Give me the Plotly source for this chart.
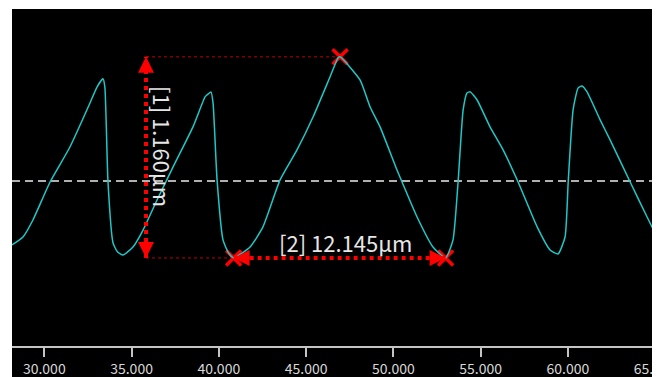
import plotly.graph_objects as go

# Profile curve (x in µm, height in µm relative to mean line)
profile_x = [28.15, 28.78, 29.35, 30.33, 31.47, 32.62, 33.02, 33.36, 33.47, 33.65, 33.94, 34.20, 34.51,
             35.08, 35.66, 36.46, 37.38, 38.52, 39.21, 39.32, 39.55, 39.67, 39.90, 40.24, 40.53, 40.85,
             41.79, 42.53, 43.51, 44.48, 45.40, 46.37, 46.83, 46.95, 48.09, 48.67, 49.24, 50.21, 50.50,
             51.36, 52.27, 52.995, 53.42, 53.71, 54.00, 54.22, 54.40, 54.80, 55.54, 56.29, 57.15, 58.24,
             58.98, 59.44, 59.84, 60.02, 60.30, 60.59, 60.81, 61.10, 61.85, 62.42, 63.57, 64.54, 65.28]
profile_y = [-0.369, -0.323, -0.225, -0.006, 0.196, 0.450, 0.542, 0.589, 0.542, -0.006, -0.358, -0.410, -0.427,
             -0.381, -0.283, -0.110, 0.081, 0.312, 0.485, 0.496, 0.514, 0.450, 0.006, -0.340, -0.410, -0.444,
             -0.381, -0.265, 0.006, 0.179, 0.369, 0.600, 0.710, 0.716, 0.583, 0.427, 0.312, 0.063, -0.006,
             -0.208, -0.381, -0.444, -0.340, -0.006, 0.410, 0.508, 0.514, 0.467, 0.312, 0.179, -0.006, -0.265,
             -0.398, -0.421, -0.323, -0.006, 0.410, 0.537, 0.548, 0.514, 0.352, 0.237, -0.006, -0.208, -0.358]

# Measurement points
peak_x, peak_y = 46.95, 0.716
valley_x = [40.85, 52.995]
valley_y = -0.444
height_arrow_x = 35.83
height_label = "[1] 1.160µm"
pitch_label = "[2] 12.145µm"

x_range = [28.15, 65.28]
y_range = [-0.952, 0.992]
tick_values = [30, 35, 40, 45, 50, 55, 60, 65]

RED = "#ff0000"
DARKRED = "#c00000"
TXT = "#e6e6e6"
FONT = "Noto Sans CJK JP"

fig = go.Figure()

# Markers (X) below curve
fig.add_trace(go.Scatter(
    x=[peak_x] + valley_x, y=[peak_y, valley_y, valley_y], mode="markers",
    marker=dict(symbol="x-thin", size=15, line=dict(color=RED, width=3.5), color=RED),
    hoverinfo="skip", showlegend=False))

# Thin dotted guide lines
fig.add_trace(go.Scatter(x=[height_arrow_x, peak_x], y=[peak_y, peak_y], mode="lines",
                         line=dict(color=DARKRED, width=1, dash="dot"), hoverinfo="skip", showlegend=False))
fig.add_trace(go.Scatter(x=[height_arrow_x, valley_x[0]], y=[valley_y, valley_y], mode="lines",
                         line=dict(color=DARKRED, width=1, dash="dot"), hoverinfo="skip", showlegend=False))

# Profile curve
fig.add_trace(go.Scatter(x=profile_x, y=profile_y, mode="lines",
                         line=dict(color="#1ec8c8", width=1.5, shape="spline", smoothing=0.5),
                         hoverinfo="skip", showlegend=False))

# Vertical arrow (height)
fig.add_trace(go.Scatter(x=[height_arrow_x, height_arrow_x], y=[valley_y, peak_y], mode="lines",
                         line=dict(color=RED, width=4, dash="dot"), hoverinfo="skip", showlegend=False))
fig.add_trace(go.Scatter(x=[height_arrow_x, height_arrow_x], y=[peak_y, valley_y], mode="markers",
                         marker=dict(symbol=["arrow-up", "arrow-down"], size=16, color=RED, line=dict(width=0)),
                         hoverinfo="skip", showlegend=False))

# Horizontal arrow (pitch)
fig.add_trace(go.Scatter(x=valley_x, y=[valley_y, valley_y], mode="lines",
                         line=dict(color=RED, width=4, dash="dot"), hoverinfo="skip", showlegend=False))
fig.add_trace(go.Scatter(x=valley_x, y=[valley_y, valley_y], mode="markers",
                         marker=dict(symbol=["arrow-left", "arrow-right"], size=16, color=RED, line=dict(width=0)),
                         hoverinfo="skip", showlegend=False))

fig.update_layout(
    width=652, height=369,
    margin=dict(l=4, r=0, t=1, b=31, autoexpand=False),
    paper_bgcolor="white", plot_bgcolor="black",
    showlegend=False,
    xaxis=dict(range=x_range, tickvals=tick_values, tickformat=".3f", showgrid=False, zeroline=False,
               showline=True, linecolor="#c4c4c4", linewidth=2, ticks="outside", ticklen=9,
               tickcolor="#c4c4c4", tickwidth=2, ticklabeloverflow="allow", automargin=False,
               tickfont=dict(family=FONT, size=14, color="#d8d8d8")),
    yaxis=dict(range=y_range, visible=False, showgrid=False, zeroline=False),
    shapes=[
        dict(type="rect", xref="paper", yref="paper", x0=0, x1=1, y0=-0.2, y1=0,
             fillcolor="black", line=dict(width=0), layer="below"),
        dict(type="line", xref="paper", yref="y", x0=0, x1=1, y0=0, y1=0,
             line=dict(color="#b0b0b0", width=2, dash="8px,5px"), layer="below"),
    ],
    annotations=[
        dict(x=36.80, y=0.196, xref="x", yref="y", text=height_label, textangle=90, showarrow=False,
             font=dict(family=FONT, size=22, color=TXT)),
        dict(x=47.26, y=-0.350, xref="x", yref="y", text=pitch_label, showarrow=False,
             font=dict(family=FONT, size=22, color=TXT)),
    ],
)

fig.write_html("out.html")
